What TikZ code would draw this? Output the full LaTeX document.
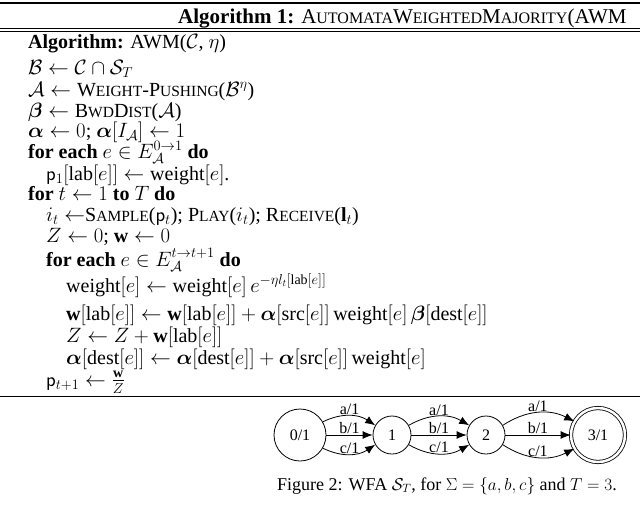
\documentclass[tikz,border=0pt]{standalone}
\usepackage{amsmath,amssymb}
\usepackage{fontspec}
\setmainfont{Liberation Serif}
\usetikzlibrary{arrows.meta}
\newcommand{\SC}[2]{#1{\fontsize{15.5}{15.5}\selectfont #2}}
\newcommand{\SCh}[2]{#1{\fontsize{16}{16}\selectfont #2}}
\begin{document}
\begin{tikzpicture}[x=1pt,y=-1pt,
  line/.style={anchor=base west,inner sep=0pt,font=\fontsize{20}{22}\selectfont},
  st/.style={draw,circle,thick,minimum size=38pt,inner sep=0pt,font=\fontsize{16}{18}\selectfont},
  ed/.style={-{Latex[length=10pt,width=8pt]},thick},
  lb/.style={font=\fontsize{16}{18}\selectfont,inner sep=0.5pt}]
\useasboundingbox (0,0) rectangle (640,509);
\draw[line width=2pt] (0,3) -- (640,3);
\draw[line width=1pt] (0,28) -- (640,28);
\draw[line width=1pt] (0,31.5) -- (640,31.5);
\draw[line width=1pt] (0,396) -- (640,396);
\node[line,font=\fontsize{21}{22}\selectfont] (h) at (178,23) {\textbf{Algorithm 1:} \SCh{A}{UTOMATA}\SCh{W}{EIGHTED}\SCh{M}{AJORITY}(AWM};
\node[line] (l0) at (28,48) {\textbf{Algorithm:} AWM($\mathcal{C}$, $\eta$)};
\node[line] (l1) at (28,74) {$\mathcal{B}\leftarrow\mathcal{C}\cap\mathcal{S}_T$};
\node[line] (l2) at (28,96) {$\mathcal{A}\leftarrow{}$\SC{W}{EIGHT}-\SC{P}{USHING}($\mathcal{B}^\eta$)};
\node[line] (l3) at (28,117) {$\boldsymbol{\beta}\leftarrow{}$\SC{B}{WD}\SC{D}{IST}($\mathcal{A}$)};
\node[line] (l4) at (28,137) {$\boldsymbol{\alpha}\leftarrow0$; $\boldsymbol{\alpha}[I_{\mathcal{A}}]\leftarrow1$};
\node[line] (l5) at (28,158) {\textbf{for each} $e\in E_{\mathcal{A}}^{0\to1}$ \textbf{do}};
\node[line] (l6) at (46,180) {$\mathsf{p}_1[\mathrm{lab}[e]]\leftarrow\mathrm{weight}[e]$.};
\node[line] (l7) at (28,200) {\textbf{for} $t\leftarrow1$ \textbf{to} $T$ \textbf{do}};
\node[line] (l8) at (46,221) {$i_t\leftarrow$\SC{S}{AMPLE}($\mathsf{p}_t$); \SC{P}{LAY}($i_t$); \SC{R}{ECEIVE}($\mathbf{l}_t$)};
\node[line] (l9) at (46,242) {$Z\leftarrow0$; $\mathbf{w}\leftarrow0$};
\node[line] (l10) at (46,266) {\textbf{for each} $e\in E_{\mathcal{A}}^{t\to t+1}$ \textbf{do}};
\node[line] (l11) at (66,292) {$\mathrm{weight}[e]\leftarrow\mathrm{weight}[e]\,e^{-\eta l_t[\mathrm{lab}[e]]}$};
\node[line] (l12) at (66,320) {$\mathbf{w}[\mathrm{lab}[e]]\leftarrow\mathbf{w}[\mathrm{lab}[e]]+\boldsymbol{\alpha}[\mathrm{src}[e]]\,\mathrm{weight}[e]\,\boldsymbol{\beta}[\mathrm{dest}[e]]$};
\node[line] (l13) at (66,342) {$Z\leftarrow Z+\mathbf{w}[\mathrm{lab}[e]]$};
\node[line] (l14) at (66,364) {$\boldsymbol{\alpha}[\mathrm{dest}[e]]\leftarrow\boldsymbol{\alpha}[\mathrm{dest}[e]]+\boldsymbol{\alpha}[\mathrm{src}[e]]\,\mathrm{weight}[e]$};
\node[line] (l15) at (46,386) {$\mathsf{p}_{t+1}\leftarrow\frac{\mathbf{w}}{Z}$};
% automaton
\node[st,minimum size=52pt] (s0) at (300,435) {0/1};
\node[st] (s1) at (392,435) {1};
\node[st] (s2) at (486,435) {2};
\node[st,double,double distance=2.5pt,minimum size=54pt] (s3) at (598,435) {3/1};
\foreach \a/\b in {s0/s1,s1/s2,s2/s3}{
  \draw[ed] (\a) to[bend left=30] node[lb,above]{a/1} (\b);
  \draw[ed] (\a) -- node[lb,above]{b/1} (\b);
  \draw[ed] (\a) to[bend right=30] node[lb,above]{c/1} (\b);
}
\node[font=\fontsize{18}{20}\selectfont,anchor=base] (cap) at (447,490) {Figure 2: WFA $\mathcal{S}_T$, for $\Sigma=\{a,b,c\}$ and $T=3$.};
\end{tikzpicture}
\end{document}
